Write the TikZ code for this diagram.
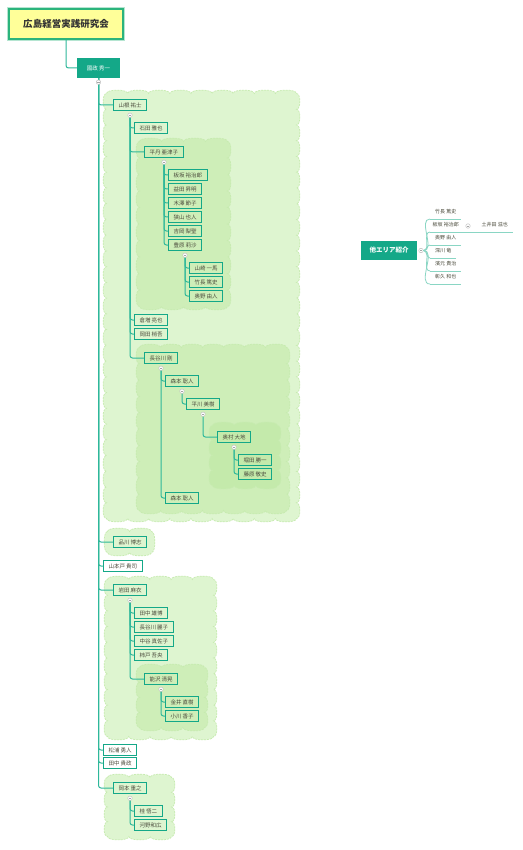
\documentclass[tikz,border=0pt]{standalone}
\usepackage{fontspec}
\setmainfont{Noto Sans CJK JP}

\definecolor{mmteal}{HTML}{14A888}
\definecolor{mmline}{HTML}{2EB89A}
\definecolor{mmsoft}{HTML}{8AD6C4}
\definecolor{mmtext}{HTML}{4B4B3C}
\definecolor{mmyellow}{HTML}{FFFF99}
\definecolor{mmframe}{HTML}{2BB47C}
\definecolor{puffA}{HTML}{DEF5D0}
\definecolor{puffB}{HTML}{CEEEB8}
\definecolor{puffC}{HTML}{C4EAAB}
\definecolor{puffedge}{HTML}{C6EBAF}

% scalloped box: x1, y1, x2, y2, fill colour
\newcommand{\puffbox}[5]{%
    \pgfmathtruncatemacro\pnx{max(1,round((#3-#1)/22))}%
    \pgfmathtruncatemacro\pny{max(1,round((#4-#2)/16))}%
    \pgfmathsetmacro\psx{(#3-#1)/\pnx}%
    \pgfmathsetmacro\psy{(#4-#2)/\pny}%
    \path[puff=#5] (#1,#2)
        \foreach \i in {1,...,\pnx} { .. controls +(0,-4.5) and +(0,-4.5) .. ++(\psx,0) }
        \foreach \i in {1,...,\pny} { .. controls +(4.5,0) and +(4.5,0) .. ++(0,\psy) }
        \foreach \i in {1,...,\pnx} { .. controls +(0,4.5) and +(0,4.5) .. ++(-\psx,0) }
        \foreach \i in {1,...,\pny} { .. controls +(-4.5,0) and +(-4.5,0) .. ++(0,-\psy) }
        -- cycle;%
}

\begin{document}
\begin{tikzpicture}[x=1pt, y=-1pt,
    person/.style={draw=mmteal, line width=1pt, anchor=west, inner xsep=5pt,
        inner ysep=0pt, minimum height=11.5pt, text=mmtext,
        font=\fontsize{5.5}{6}\selectfont},
    headbox/.style={fill=mmteal, text=white, inner sep=0pt},
    link/.style={draw=mmline, line width=1pt, rounded corners=2.5pt},
    fold/.style={circle, draw=gray!55, fill=white, line width=0.4pt,
        inner sep=0pt, minimum size=4.5pt,
        path picture={\draw[gray!70, line width=0.4pt]
            ([xshift=-1.2pt]path picture bounding box.center) --
            ([xshift=1.2pt]path picture bounding box.center);}},
    puff/.style={fill=#1, draw=puffedge, dash pattern=on 2pt off 1pt, line width=0.7pt},
    leaf/.style={anchor=south west, inner xsep=2pt, inner ysep=0pt,
        minimum height=15pt, text=mmtext, font=\fontsize{5}{6}\selectfont},
    twig/.style={draw=mmsoft, line width=0.8pt}
]
    \fill[white] (0,0) rectangle (522,850);
    \useasboundingbox (0,0) rectangle (522,850);

    % Clouds (background)
    \puffbox{106.5}{93.5}{296.5}{518.5}{puffA}
    \puffbox{139.5}{141.5}{227.5}{306.5}{puffB}
    \puffbox{139.5}{347.5}{286.5}{510.5}{puffB}
    \puffbox{212.5}{425.5}{277.5}{485.5}{puffC}
    \puffbox{107.5}{531.5}{151.5}{552.5}{puffA}
    \puffbox{107.5}{579.5}{213.5}{736.5}{puffA}
    \puffbox{139.5}{667.5}{204.5}{727.5}{puffB}
    \puffbox{107.5}{777.5}{171.5}{836.5}{puffA}

    % Root and head
    \node[draw=mmframe, line width=1.8pt, fill=mmyellow,
        preaction={draw=mmframe!35, line width=3.6pt},
        minimum width=114pt, minimum height=30pt, text=black!80,
        font=\fontsize{9.5}{10}\selectfont\bfseries] (root) at (66,24) {広島経営実践研究会};
    \node[headbox, minimum width=43pt, minimum height=20pt,
        font=\fontsize{5.5}{6}\selectfont] (kok) at (98.5,68) {國政 秀一};
    \draw[link] (root.south) |- (kok.west);

    % First level
    \node[person] (yamane) at (113,105) {山根 祐士};
    \node[person] (shinagawa) at (113,542) {品川 博志};
    \node[person, fill=white] (yamamotodo) at (103,566) {山本戸 貴司};
    \node[person] (iwata) at (113,590) {岩田 麻衣};
    \node[person, fill=white] (matsuura) at (103,750) {松浦 勇人};
    \node[person, fill=white] (tanakaT) at (103,763) {田中 貴政};
    \node[person] (okamoto) at (113,788) {岡本 重之};

    % Yamane branch
    \node[person] (ishida) at (134,128) {石田 雅也};
    \node[person] (hirani) at (144,152) {平丹 亜津子};
    \node[person] (kuramasu) at (134,320) {倉増 亮也};
    \node[person] (okada) at (134,334) {岡田 梢吾};
    \node[person] (hasegawa) at (144,358) {長谷川 剛};

    % Hirani branch
    \node[person] (itasaka) at (168,175) {板坂 裕治郎};
    \node[person] (masuda) at (168,189) {益田 昇明};
    \node[person] (kizawa) at (168,203) {木澤 節子};
    \node[person] (sayama) at (168,217) {狭山 也人};
    \node[person] (yoshioka) at (168,231) {吉岡 梨聖};
    \node[person] (toyohara) at (168,245) {豊原 莉沙};
    \node[person] (yamasaki) at (189,268) {山崎 一馬};
    \node[person] (takenaga) at (189,282) {竹長 篤史};
    \node[person] (okuno) at (189,296) {奥野 由人};

    % Hasegawa branch
    \node[person] (morimotoA) at (165,381) {森本 聡人};
    \node[person] (hirakawa) at (186,404) {平川 美樹};
    \node[person] (okumura) at (217,437) {奥村 大地};
    \node[person] (hotta) at (238,460) {堀田 勝一};
    \node[person] (fujiwara) at (238,474) {藤原 敬史};
    \node[person] (morimotoB) at (165,498) {森本 聡人};

    % Iwata branch
    \node[person] (tanaka) at (134,613) {田中 雄博};
    \node[person] (hasegawaR) at (134,627) {長谷川 麗子};
    \node[person] (nakatani) at (134,641) {中谷 真佐子};
    \node[person] (kakido) at (134,655) {柿戸 吾央};
    \node[person] (nozawa) at (144,679) {能沢 清晃};
    \node[person] (kanai) at (165,702) {金井 直樹};
    \node[person] (ogawa) at (165,716) {小川 香子};

    % Okamoto branch
    \node[person] (katsura) at (134,811) {桂 悟二};
    \node[person] (kawano) at (134,825) {河野和広};

    % Fold points
    \coordinate (f-kok) at ([yshift=-4pt]kok.south);
    \foreach \p/\dx in {yamane/17, hirani/20, toyohara/17, hasegawa/17,
        morimotoA/17, hirakawa/17, okumura/17, iwata/17, nozawa/17, okamoto/17}
        \coordinate (f-\p) at ([xshift=\dx pt, yshift=-4pt]\p.south west);

    % Connectors
    \foreach \c in {yamane, shinagawa, yamamotodo, iwata, matsuura, tanakaT, okamoto}
        \draw[link] (kok.south) |- (\c.west);
    \foreach \c in {ishida, hirani, kuramasu, okada, hasegawa}
        \draw[link] (f-yamane) |- (\c.west);
    \foreach \c in {itasaka, masuda, kizawa, sayama, yoshioka, toyohara}
        \draw[link] (f-hirani) |- (\c.west);
    \foreach \c in {yamasaki, takenaga, okuno}
        \draw[link] (f-toyohara) |- (\c.west);
    \foreach \c in {morimotoA, morimotoB}
        \draw[link] (f-hasegawa) |- (\c.west);
    \draw[link] (f-morimotoA) |- (hirakawa.west);
    \draw[link] (f-hirakawa) |- (okumura.west);
    \foreach \c in {hotta, fujiwara}
        \draw[link] (f-okumura) |- (\c.west);
    \foreach \c in {tanaka, hasegawaR, nakatani, kakido, nozawa}
        \draw[link] (f-iwata) |- (\c.west);
    \foreach \c in {kanai, ogawa}
        \draw[link] (f-nozawa) |- (\c.west);
    \foreach \c in {katsura, kawano}
        \draw[link] (f-okamoto) |- (\c.west);

    \foreach \p in {kok, yamane, hirani, toyohara, hasegawa, morimotoA,
        hirakawa, okumura, iwata, nozawa, okamoto}
        \node[fold] at (f-\p) {};

    % Other areas
    \node[headbox, minimum width=56pt, minimum height=19pt,
        font=\fontsize{6.5}{7}\selectfont\bfseries] (other) at (389,250.5) {他エリア紹介};
    \node[fold] (f-other) at (421,250.5) {};
    \node[leaf, minimum width=31pt] (r1) at (430,219) {竹長 篤史};
    \node[leaf, minimum width=31pt] (r2) at (430,232) {板坂 裕治郎};
    \node[leaf, minimum width=31pt] (r3) at (430,245) {奥野 由人};
    \node[leaf, minimum width=26pt] (r4) at (430,258) {深川 竜};
    \node[leaf, minimum width=31pt] (r5) at (430,271) {濱元 貴治};
    \node[leaf, minimum width=31pt] (r6) at (430,284) {彰久 和也};
    \node[leaf, minimum width=37pt] (doi) at (476,232) {土井田 滋也};
    \foreach \r in {r1, r2, r3, r4, r5, r6} {
        \draw[twig] (\r.south west) -- (\r.south east);
        \draw[twig] (f-other.east) to[out=0, in=180] (\r.south west);
    }
    \draw[twig] (r2.south east) -- (doi.south east);
    \node[fold] (f-itasaka) at (468,226) {};
\end{tikzpicture}
\end{document}
